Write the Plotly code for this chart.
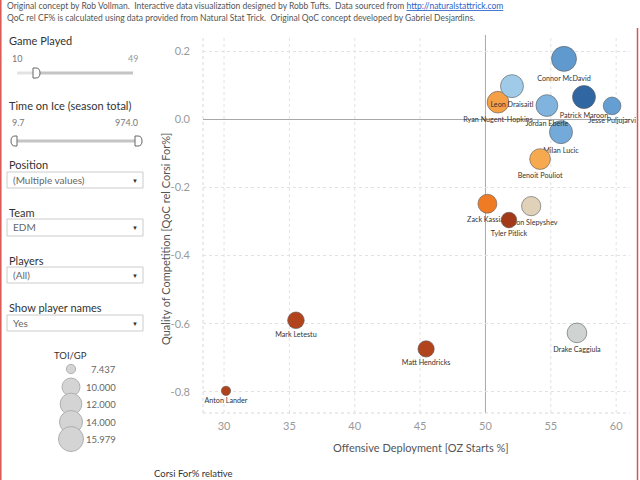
import numpy as np
import plotly.graph_objects as go

# ---------------- data ----------------
players = ["Anton Lander", "Mark Letestu", "Matt Hendricks", "Drake Caggiula",
           "Milan Lucic", "Zack Kassian", "Anton Slepyshev", "Tyler Pitlick",
           "Benoit Pouliot", "Ryan Nugent-Hopkins", "Leon Draisaitl",
           "Jordan Eberle", "Connor McDavid", "Patrick Maroon", "Jesse Puljujarvi"]
oz_starts = [30.15, 35.5, 45.46, 57.0, 55.78, 50.15, 53.5, 51.8,
             54.18, 50.96, 52.03, 54.7, 56.01, 57.54, 59.69]
qoc_rel_cf = [-0.797, -0.590, -0.674, -0.627, -0.038, -0.248, -0.255, -0.296,
              -0.117, 0.050, 0.097, 0.040, 0.177, 0.065, 0.039]
toi_gp = [7.437, 9.6, 9.5, 10.9, 14.0, 10.5, 10.7, 9.3,
          11.5, 12.0, 14.0, 12.2, 15.979, 14.0, 9.9]
cf_rel = [-6.4, -6.2, -6.2, 0.4, 4.6, -2.8, -0.2, -7.4,
          -1.3, -1.6, 3.2, 4.2, 5.5, 7.7, 5.2]

x_ticks = [30, 35, 40, 45, 50, 55, 60]
x_reference = 50
y_ticks = [0.2, 0.0, -0.2, -0.4, -0.6, -0.8]
y_tick_text = ["0.2", "0.0", "-0.2", "-0.4", "-0.6", "-0.8"]

legend_toi = [7.437, 10.0, 12.0, 14.0, 15.979]
legend_toi_text = ["7.437", "10.000", "12.000", "14.000", "15.979"]

# ---------------- styles / scales ----------------
legend_diam = [9.3, 18.0, 21.7, 23.0, 25.0]


def diam(v):
    return float(np.interp(v, legend_toi, legend_diam))


colorscale = [
    [0.00, "#9a3519"],
    [0.12, "#b4451d"],
    [0.32, "#ef7a22"],
    [0.42, "#f7aa50"],
    [0.50, "#dcd8cd"],
    [0.53, "#ccd3d3"],
    [0.70, "#a0cbe8"],
    [0.80, "#6da5d7"],
    [0.86, "#5a94ca"],
    [1.00, "#2a5f9c"],
]

FONT = "Lato, 'Open Sans', sans-serif"
GRID = "#e2e2e2"
W, H = 640, 480


def X(p):
    return p / W


def Y(p):
    return 1 - p / H


fig = go.Figure()

for i, name in enumerate(players):
    fig.add_trace(go.Scatter(
        x=[oz_starts[i]], y=[qoc_rel_cf[i]],
        mode="markers+text",
        text=[name],
        textposition="bottom center",
        textfont=dict(size=7.2, color="#333333", family=FONT),
        marker=dict(size=diam(toi_gp[i]), color=[cf_rel[i]],
                    colorscale=colorscale, cmin=-8, cmax=8,
                    line=dict(color="rgba(90,90,90,0.6)", width=1),
                    opacity=1),
        cliponaxis=False,
        showlegend=False,
        hoverinfo="text",
    ))

shapes = []
annotations = []

# vertical dotted gridlines (drawn as shapes so the 50% reference line stays solid)
for t in x_ticks:
    if t != x_reference:
        shapes.append(dict(type="line", xref="x", yref="y domain", x0=t, x1=t, y0=0, y1=1,
                           line=dict(color=GRID, width=1, dash="dot"), layer="below"))
shapes.append(dict(type="line", xref="x", yref="y domain", x0=x_reference, x1=x_reference, y0=0, y1=1,
                   line=dict(color="#a8a8a8", width=1), layer="below"))
# plot borders (dotted)
shapes.append(dict(type="line", xref="x domain", yref="y domain", x0=0, x1=1, y0=0, y1=0,
                   line=dict(color="#d8d8d8", width=1, dash="dot"), layer="below"))
shapes.append(dict(type="line", xref="x domain", yref="y domain", x0=0, x1=0, y0=0, y1=1,
                   line=dict(color="#d8d8d8", width=1, dash="dot"), layer="below"))

# red dashboard borders
shapes.append(dict(type="line", xref="paper", yref="paper", x0=X(0.8), x1=X(0.8), y0=0, y1=1,
                   line=dict(color="#d9534f", width=1.5)))
shapes.append(dict(type="line", xref="paper", yref="paper", x0=X(637.5), x1=X(637.5), y0=0, y1=Y(28),
                   line=dict(color="#d9534f", width=1.5)))

# header text
annotations.append(dict(
    x=X(5), y=Y(6), xref="paper", yref="paper", xanchor="left", yanchor="middle", showarrow=False,
    text="Original concept by Rob Vollman.  Interactive data visualization designed by Robb Tufts.  Data sourced from "
         "<span style='color:#2a62c9;text-decoration:underline'>http://naturalstattrick.com</span>",
    font=dict(size=8.5, color="#555555", family=FONT)))
annotations.append(dict(
    x=X(5), y=Y(17.5), xref="paper", yref="paper", xanchor="left", yanchor="middle", showarrow=False,
    text="QoC rel CF% is calculated using data provided from Natural Stat Trick.  Original QoC concept developed by Gabriel Desjardins.",
    font=dict(size=8.5, color="#555555", family=FONT)))


def label(x, y, text, size=11, color="#333333", anchor="left"):
    annotations.append(dict(x=X(x), y=Y(y), xref="paper", yref="paper", xanchor=anchor, yanchor="middle",
                            showarrow=False, text=text, font=dict(size=size, color=color, family=FONT)))


# Game Played slider
label(7, 40, "Game Played")
label(10, 58, "10", size=9, color="#777777")
label(140, 58, "49", size=9, color="#999999", anchor="right")
shapes.append(dict(type="line", xref="paper", yref="paper", x0=X(17), x1=X(33), y0=Y(73), y1=Y(73),
                   line=dict(color="#e2e2e2", width=3)))
shapes.append(dict(type="line", xref="paper", yref="paper", x0=X(36), x1=X(133), y0=Y(73), y1=Y(73),
                   line=dict(color="#c4c4c4", width=3)))
shapes.append(dict(type="path", xref="paper", yref="paper",
                   path=f"M {X(33)},{Y(68)} L {X(36)},{Y(68)} Q {X(40)},{Y(68)} {X(40)},{Y(73)} "
                        f"Q {X(40)},{Y(78)} {X(36)},{Y(78)} L {X(33)},{Y(78)} Z",
                   fillcolor="white", line=dict(color="#666666", width=1)))

# Time on Ice slider
label(7, 105, "Time on Ice (season total)")
label(10, 123, "9.7", size=9, color="#777777")
label(140, 123, "974.0", size=9, color="#777777", anchor="right")
shapes.append(dict(type="line", xref="paper", yref="paper", x0=X(14), x1=X(138), y0=Y(141), y1=Y(141),
                   line=dict(color="#c4c4c4", width=3)))
shapes.append(dict(type="path", xref="paper", yref="paper",
                   path=f"M {X(17)},{Y(136)} L {X(15)},{Y(136)} Q {X(11)},{Y(136)} {X(11)},{Y(141)} "
                        f"Q {X(11)},{Y(146)} {X(15)},{Y(146)} L {X(17)},{Y(146)} Z",
                   fillcolor="white", line=dict(color="#666666", width=1)))
shapes.append(dict(type="path", xref="paper", yref="paper",
                   path=f"M {X(135)},{Y(136)} L {X(138)},{Y(136)} Q {X(142)},{Y(136)} {X(142)},{Y(141)} "
                        f"Q {X(142)},{Y(146)} {X(138)},{Y(146)} L {X(135)},{Y(146)} Z",
                   fillcolor="white", line=dict(color="#666666", width=1)))


def dropdown(title, title_y, y0, y1, value):
    label(7, title_y, title)
    shapes.append(dict(type="rect", xref="paper", yref="paper", x0=X(7), x1=X(143), y0=Y(y1), y1=Y(y0),
                       fillcolor="white", line=dict(color="#cccccc", width=1)))
    label(11, (y0 + y1) / 2, value, size=10, color="#666666")
    label(135, (y0 + y1) / 2, "▼", size=6, color="#333333", anchor="center")


dropdown("Position", 164, 172, 188, "(Multiple values)")
dropdown("Team", 212, 219, 236, "EDM")
dropdown("Players", 260, 267, 283, "(All)")
dropdown("Show player names", 307, 315, 331, "Yes")

# TOI/GP size legend
label(70, 355, "TOI/GP", size=9.5, anchor="center")
leg_y = [369, 387, 404, 422, 439]
for v, t, cy in zip(legend_toi, legend_toi_text, leg_y):
    r = diam(v) / 2
    shapes.append(dict(type="circle", xref="paper", yref="paper", x0=X(71 - r), x1=X(71 + r),
                       y0=Y(cy + r), y1=Y(cy - r), fillcolor="#d4d4d4", line=dict(color="#b0b0b0", width=1)))
    label(118, cy, t, size=9.5, color="#666666", anchor="right")

# color legend title
label(152, 473, "Corsi For% relative", size=9.5)

# axis titles
annotations.append(dict(x=X(421), y=Y(447), xref="paper", yref="paper", xanchor="center", yanchor="middle",
                        showarrow=False, text="Offensive Deployment [OZ Starts %]",
                        font=dict(size=11, color="#555555", family=FONT)))
annotations.append(dict(x=X(165), y=Y(239), xref="paper", yref="paper", xanchor="center", yanchor="middle",
                        showarrow=False, textangle=-90, text="Quality of Competition [QoC rel Corsi For%]",
                        font=dict(size=11, color="#555555", family=FONT)))

fig.update_layout(
    width=W, height=H,
    margin=dict(l=0, r=0, t=0, b=0),
    paper_bgcolor="white", plot_bgcolor="white",
    showlegend=False,
    font=dict(family=FONT),
    shapes=shapes,
    annotations=annotations,
    xaxis=dict(domain=[X(203), X(630)], range=[28.39, 61.06], tickvals=x_ticks,
               showgrid=False, zeroline=False, showline=False,
               ticks="", tickfont=dict(size=11, color="#9a9a9a", family=FONT), ticklabelstandoff=5,
               automargin=False, fixedrange=True),
    yaxis=dict(domain=[Y(413), Y(35)], range=[-0.862, 0.247], tickvals=y_ticks, ticktext=y_tick_text,
               showgrid=True, gridcolor=GRID, griddash="dot", zeroline=True, zerolinecolor="#a8a8a8",
               zerolinewidth=1, showline=False, ticks="", tickfont=dict(size=11, color="#9a9a9a", family=FONT),
               ticklabelstandoff=12, automargin=False, fixedrange=True),
)

fig.write_html("out.html")
